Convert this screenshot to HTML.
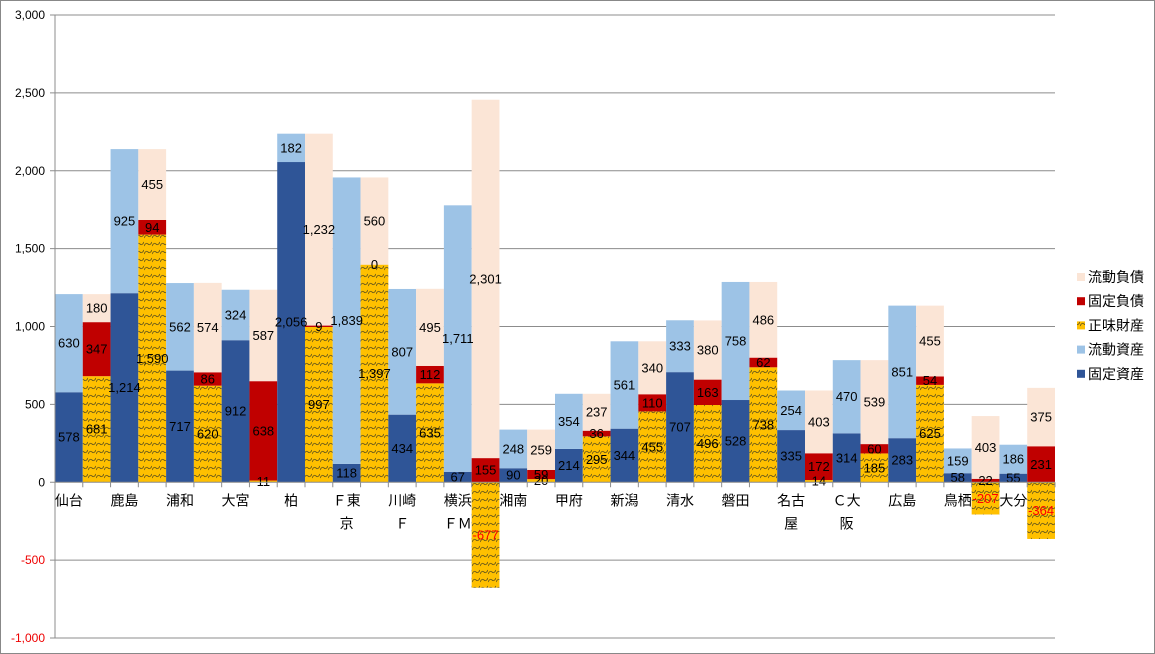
<!DOCTYPE html>
<html><head><meta charset="utf-8"><style>
html,body{margin:0;padding:0;background:#fff;width:1155px;height:654px;overflow:hidden}
svg{display:block;font-family:"Liberation Sans","Noto Sans CJK JP",sans-serif}
</style></head><body>
<svg id="chart" width="1155" height="654">
<defs>
<pattern id="wave" width="8" height="8" patternUnits="userSpaceOnUse">
<rect width="8" height="8" fill="#FFC000"/>
<path d="M0,6 Q2,2 4,4 T8,2" stroke="#6b5a1a" stroke-width="0.9" fill="none"/>
</pattern>
</defs>
<rect x="0.5" y="0.5" width="1154" height="653" fill="#fff" stroke="#888"/>
<g id="grid"></g><g id="bars"></g><g id="labels"></g><g id="axes"></g><g id="legend"></g>
</svg>
<script>
const categories=[["仙台"],["鹿島"],["浦和"],["大宮"],["柏"],["Ｆ東","京"],["川崎","Ｆ"],["横浜","ＦＭ"],["湘南"],["甲府"],["新潟"],["清水"],["磐田"],["名古","屋"],["Ｃ大","阪"],["広島"],["鳥栖"],["大分"]];
const fixedAssets=[578,1214,717,912,2056,118,434,67,90,214,344,707,528,335,314,283,58,55];
const currentAssets=[630,925,562,324,182,1839,807,1711,248,354,561,333,758,254,470,851,159,186];
const netAssets=[681,1590,620,11,997,1397,635,-677,20,295,455,496,738,14,185,625,-207,-364];
const fixedLiab=[347,94,86,638,9,0,112,155,59,36,110,163,62,172,60,54,22,231];
const currentLiab=[180,455,574,587,1232,560,495,2301,259,237,340,380,486,403,539,455,403,375];
const yTicks=[-1000,-500,0,500,1000,1500,2000,2500,3000];
const NS="http://www.w3.org/2000/svg";
const L=55,R=1055,T=15,B=638,yMin=-1000,yMax=3000;
const y=v=>T+(yMax-v)/(yMax-yMin)*(B-T);
const cw=(R-L)/categories.length, bw=cw/2;
const fmt=v=>v.toLocaleString('en-US');
function mk(tag,attrs,parent){const e=document.createElementNS(NS,tag);for(const k in attrs)e.setAttribute(k,attrs[k]);parent.appendChild(e);return e;}
const grid=document.getElementById('grid'),bars=document.getElementById('bars'),labels=document.getElementById('labels'),axes=document.getElementById('axes'),legend=document.getElementById('legend');
yTicks.forEach(t=>{
  if(t!==0){const g=mk('line',{x1:L,x2:R,y1:y(t),y2:y(t),stroke:'#8c8c8c','stroke-width':1},grid);
  
  }
  const tx=mk('text',{x:45,y:y(t)+4,'text-anchor':'end','font-size':12,fill:t<0?'#e00':'#000'},axes);
  tx.textContent=fmt(t);
  
  
});
const colors={fa:'#2F5597',ca:'#9DC3E6',na:'url(#wave)',fl:'#C00000',cl:'#FBE5D6'};
function seg(x,v0,v1,fill,val,name,red){
  const top=Math.min(y(v0),y(v1)),h=Math.abs(y(v1)-y(v0));
  const r=mk('rect',{x:x,y:top,width:bw,height:Math.max(h,0.01),fill:fill},bars);
  
  
  const t=mk('text',{x:x+bw/2,y:top+h/2+4.5,'text-anchor':'middle','font-size':13,fill:red?'#f00':'#000'},labels);
  t.textContent=fmt(val);
  
  
}
categories.forEach((c,i)=>{
  const xa=L+i*cw,xl=xa+bw;
  seg(xa,0,fixedAssets[i],colors.fa,fixedAssets[i],'bar-fixed-assets');
  seg(xa,fixedAssets[i],fixedAssets[i]+currentAssets[i],colors.ca,currentAssets[i],'bar-current-assets');
  let base=0;
  if(netAssets[i]>=0){seg(xl,0,netAssets[i],colors.na,netAssets[i],'bar-net-assets');base=netAssets[i];}
  else seg(xl,0,netAssets[i],colors.na,netAssets[i],'bar-net-assets',true);
  seg(xl,base,base+fixedLiab[i],colors.fl,fixedLiab[i],'bar-fixed-liabilities');
  base+=fixedLiab[i];
  seg(xl,base,base+currentLiab[i],colors.cl,currentLiab[i],'bar-current-liabilities');
  c.forEach((s,k)=>{
    const t=mk('text',{x:xa+bw/2,y:y(0)+23+k*23,'text-anchor':'middle','font-size':14,fill:'#000'},axes);
    t.textContent=s;
    
    
  });
});
const za=mk('line',{x1:L,x2:R,y1:y(0),y2:y(0),stroke:'#8c8c8c'},axes);


for(let j=0;j<=categories.length*2;j++){
  const tk=mk('line',{x1:L+j*bw,x2:L+j*bw,y1:y(0),y2:y(0)+5,stroke:'#8c8c8c'},axes);
  
  
}
const ya=mk('line',{x1:L,x2:L,y1:T,y2:B,stroke:'#8c8c8c'},axes);


for(const t of yTicks){const k=mk('line',{x1:L-5,x2:L,y1:y(t),y2:y(t),stroke:'#8c8c8c'},axes);

}
const legendItems=[['流動負債',colors.cl],['固定負債',colors.fl],['正味財産',colors.na],['流動資産',colors.ca],['固定資産',colors.fa]];
legendItems.forEach((it,k)=>{
  const yy=277+k*24.2;
  const g=mk('g',{},legend);
  
  
  mk('rect',{x:1077,y:yy-4,width:8,height:8,fill:it[1]},g);
  const t=mk('text',{x:1088,y:yy+5,'font-size':14,fill:'#000'},g);
  t.textContent=it[0];
});
</script>
</body></html>
